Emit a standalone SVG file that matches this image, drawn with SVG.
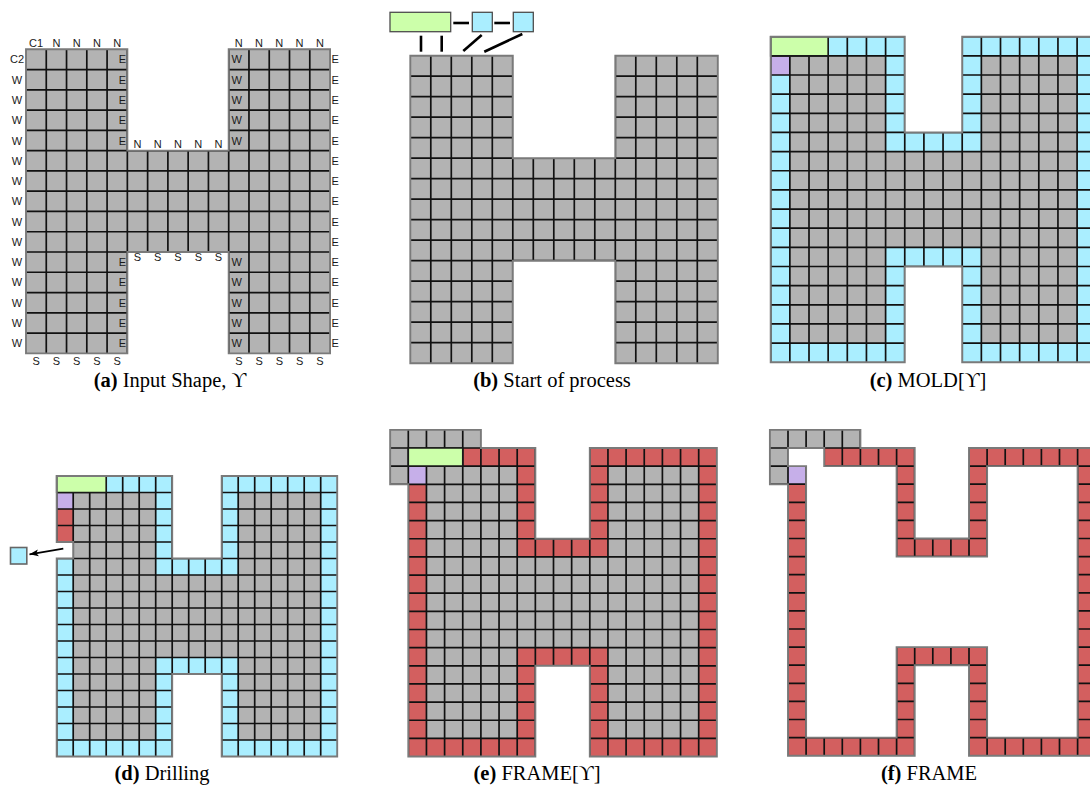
<svg xmlns="http://www.w3.org/2000/svg" xmlns:xlink="http://www.w3.org/1999/xlink" width="1090" height="790" viewBox="0 0 1090 790">
<style>
.gy{fill:#b3b3b3}
.bl{fill:#aaeeff}
.pu{fill:#c6afe9}
.rd{fill:#d35f5f}
.grid{fill:none;stroke:#111;stroke-width:1.7px}
.ol{fill:none;stroke:#7a7a7a;stroke-width:1.9px}
.mg{fill:#ccffaa;stroke:#1a1a1a;stroke-width:1.6px;vector-effect:non-scaling-stroke}
.lb{font-family:"Liberation Sans",Arial,sans-serif;font-size:11px;fill:#1a1a1a}
.m{text-anchor:middle}
.e{text-anchor:end}
.cap{font-family:"Liberation Serif","DejaVu Serif",serif;font-size:20.5px;fill:#000;text-anchor:middle}
.hd{stroke:#4d4d4d;stroke-width:1.3}
.ln{stroke:#000;stroke-width:2.6;fill:none}
</style>
<defs>
<path id="H15" d="M0,0H5V5H10V0H15V15H10V10H5V15H0Z" vector-effect="non-scaling-stroke"/>
<path id="H17" d="M0,0H7V5H10V0H17V17H10V12H7V17H0Z" vector-effect="non-scaling-stroke"/>
<path id="H17d" d="M0,0H7V5H10V0H17V17H10V12H7V17H0V5H1V4H0Z" vector-effect="non-scaling-stroke"/>
<path id="Hin" d="M1,1H6V6H11V1H16V16H11V11H6V16H1Z"/>
<path id="Lg" d="M-1,-1H4V0H0V2H-1Z"/>
<path id="E" d="M-1,-1H4V0H7V5H10V0H17V17H10V12H7V17H0V2H-1Z" vector-effect="non-scaling-stroke"/>
<path id="F" d="M-1,-1H4V0H7V5H10V0H17V17H10V12H7V17H0V2H-1Z M0,0H2V1H6V6H11V1H16V16H11V11H6V16H1V1H0Z" fill-rule="evenodd" clip-rule="evenodd" vector-effect="non-scaling-stroke"/>
<path id="g15" vector-effect="non-scaling-stroke" d="M1,0V15M2,0V15M3,0V15M4,0V15M5,0V15M6,0V15M7,0V15M8,0V15M9,0V15M10,0V15M11,0V15M12,0V15M13,0V15M14,0V15M0,1H15M0,2H15M0,3H15M0,4H15M0,5H15M0,6H15M0,7H15M0,8H15M0,9H15M0,10H15M0,11H15M0,12H15M0,13H15M0,14H15"/>
<path id="g17" vector-effect="non-scaling-stroke" d="M0,-1V17M1,-1V17M2,-1V17M3,-1V17M4,-1V17M5,-1V17M6,-1V17M7,-1V17M8,-1V17M9,-1V17M10,-1V17M11,-1V17M12,-1V17M13,-1V17M14,-1V17M15,-1V17M16,-1V17M-1,0H17M-1,1H17M-1,2H17M-1,3H17M-1,4H17M-1,5H17M-1,6H17M-1,7H17M-1,8H17M-1,9H17M-1,10H17M-1,11H17M-1,12H17M-1,13H17M-1,14H17M-1,15H17M-1,16H17"/>
<clipPath id="cH15"><use href="#H15"/></clipPath>
<clipPath id="cH17"><use href="#H17"/></clipPath>
<clipPath id="cH17d"><use href="#H17d"/></clipPath>
<clipPath id="cE"><use href="#E"/></clipPath>
<clipPath id="cF"><use href="#F" clip-rule="evenodd"/></clipPath>
<marker id="arr" markerUnits="userSpaceOnUse" markerWidth="10" markerHeight="8" refX="9" refY="4" orient="auto"><path d="M0,0.5L9,4L0,7.5L2,4Z" fill="#000"/></marker>
</defs>

<g id="panel-a">
<g transform="translate(26,49.3) scale(20.27)">
<use href="#H15" class="gy"/>
<use href="#g15" class="grid" clip-path="url(#cH15)"/>
<use href="#H15" class="ol"/>
</g>
<g class="lb">
<text class="m" x="36.1" y="46.5">C1</text>
<text class="m" x="56.4" y="46.5">N</text><text class="m" x="76.7" y="46.5">N</text><text class="m" x="96.9" y="46.5">N</text><text class="m" x="117.2" y="46.5">N</text>
<text class="m" x="238.8" y="46.5">N</text><text class="m" x="259.1" y="46.5">N</text><text class="m" x="279.3" y="46.5">N</text><text class="m" x="299.6" y="46.5">N</text><text class="m" x="319.9" y="46.5">N</text>
<text class="m" x="17" y="63.4">C2</text>
<text class="m" x="17" y="83.7">W</text><text class="m" x="17" y="103.9">W</text><text class="m" x="17" y="124.2">W</text><text class="m" x="17" y="144.5">W</text><text class="m" x="17" y="164.7">W</text><text class="m" x="17" y="185">W</text><text class="m" x="17" y="205.3">W</text><text class="m" x="17" y="225.6">W</text><text class="m" x="17" y="245.8">W</text><text class="m" x="17" y="266.1">W</text><text class="m" x="17" y="286.4">W</text><text class="m" x="17" y="306.6">W</text><text class="m" x="17" y="326.9">W</text><text class="m" x="17" y="347.2">W</text>
<text class="e" x="126" y="63.4">E</text><text class="e" x="126" y="83.7">E</text><text class="e" x="126" y="103.9">E</text><text class="e" x="126" y="124.2">E</text><text class="e" x="126" y="144.5">E</text>
<text class="e" x="126" y="266.1">E</text><text class="e" x="126" y="286.4">E</text><text class="e" x="126" y="306.6">E</text><text class="e" x="126" y="326.9">E</text><text class="e" x="126" y="347.2">E</text>
<text x="231.5" y="63.4">W</text><text x="231.5" y="83.7">W</text><text x="231.5" y="103.9">W</text><text x="231.5" y="124.2">W</text><text x="231.5" y="144.5">W</text>
<text x="231.5" y="266.1">W</text><text x="231.5" y="286.4">W</text><text x="231.5" y="306.6">W</text><text x="231.5" y="326.9">W</text><text x="231.5" y="347.2">W</text>
<text x="331.5" y="63.4">E</text><text x="331.5" y="83.7">E</text><text x="331.5" y="103.9">E</text><text x="331.5" y="124.2">E</text><text x="331.5" y="144.5">E</text><text x="331.5" y="164.7">E</text><text x="331.5" y="185">E</text><text x="331.5" y="205.3">E</text><text x="331.5" y="225.6">E</text><text x="331.5" y="245.8">E</text><text x="331.5" y="266.1">E</text><text x="331.5" y="286.4">E</text><text x="331.5" y="306.6">E</text><text x="331.5" y="326.9">E</text><text x="331.5" y="347.2">E</text>
<text class="m" x="137.5" y="148.3">N</text><text class="m" x="157.7" y="148.3">N</text><text class="m" x="178" y="148.3">N</text><text class="m" x="198.3" y="148.3">N</text><text class="m" x="218.5" y="148.3">N</text>
<text class="m" x="137.5" y="261">S</text><text class="m" x="157.7" y="261">S</text><text class="m" x="178" y="261">S</text><text class="m" x="198.3" y="261">S</text><text class="m" x="218.5" y="261">S</text>
<text class="m" x="36.1" y="365">S</text><text class="m" x="56.4" y="365">S</text><text class="m" x="76.7" y="365">S</text><text class="m" x="96.9" y="365">S</text><text class="m" x="117.2" y="365">S</text>
<text class="m" x="238.8" y="365">S</text><text class="m" x="259.1" y="365">S</text><text class="m" x="279.3" y="365">S</text><text class="m" x="299.6" y="365">S</text><text class="m" x="319.9" y="365">S</text>
</g>
<text class="cap" x="170" y="387"><tspan font-weight="bold">(a)</tspan> Input Shape, ϒ</text>
</g>

<g id="panel-b">
<g transform="translate(410.3,55.7) scale(20.5)">
<use href="#H15" class="gy"/>
<use href="#g15" class="grid" clip-path="url(#cH15)"/>
<use href="#H15" class="ol"/>
</g>
<g id="b-head">
<rect x="390" y="12.3" width="60.7" height="19.4" fill="#ccffaa" class="hd"/>
<rect x="472.3" y="12.3" width="20" height="19.4" fill="#aaeeff" class="hd"/>
<rect x="513.3" y="12.3" width="20" height="19.4" fill="#aaeeff" class="hd"/>
</g>
<g id="b-connectors" class="ln">
<line x1="453.3" y1="23" x2="469" y2="23"/>
<line x1="494.3" y1="23" x2="510" y2="23"/>
<line x1="421" y1="35.7" x2="421" y2="51.7"/>
<line x1="441.7" y1="35.7" x2="441.7" y2="51.7"/>
<line x1="481.7" y1="35" x2="463.3" y2="51"/>
<line x1="522.3" y1="34" x2="484.3" y2="51.7"/>
</g>
<text class="cap" x="552" y="387"><tspan font-weight="bold">(b)</tspan> Start of process</text>
</g>

<g id="panel-c">
<g transform="translate(770.7,36.7) scale(19.15)">
<use href="#H17" class="bl"/>
<use href="#Hin" class="gy"/>
<rect x="0" y="1" width="1" height="1" class="pu"/>
<use href="#g17" class="grid" clip-path="url(#cH17)"/>
<rect x="0" y="0" width="3" height="1" class="mg"/>
<use href="#H17" class="ol"/>
</g>
<text class="cap" x="928" y="387"><tspan font-weight="bold">(c)</tspan> MOLD[ϒ]</text>
</g>

<g id="panel-d">
<g transform="translate(56.7,476) scale(16.5)">
<use href="#H17d" class="bl"/>
<use href="#Hin" class="gy"/>
<rect x="0" y="1" width="1" height="1" class="pu"/>
<rect x="0" y="2" width="1" height="2" class="rd"/>
<use href="#g17" class="grid" clip-path="url(#cH17d)"/>
<rect x="0" y="0" width="3" height="1" class="mg"/>
<use href="#H17d" class="ol"/>
</g>
<g id="d-drilled">
<rect x="10.5" y="547.5" width="16.3" height="16.5" fill="#aaeeff" stroke="#666" stroke-width="1.6"/>
</g>
<g id="d-arrow">
<line x1="63.3" y1="548.7" x2="29.5" y2="554.3" stroke="#000" stroke-width="1.8" marker-end="url(#arr)"/>
</g>
<text class="cap" x="162" y="780"><tspan font-weight="bold">(d)</tspan> Drilling</text>
</g>

<g id="panel-e">
<g transform="translate(408.3,448) scale(18.15)">
<use href="#H17" class="rd"/>
<use href="#Lg" class="gy"/>
<use href="#Hin" class="gy"/>
<rect x="0" y="1" width="1" height="1" class="pu"/>
<use href="#g17" class="grid" clip-path="url(#cE)"/>
<rect x="0" y="0" width="3" height="1" class="mg"/>
<use href="#E" class="ol"/>
</g>
<text class="cap" x="537" y="780"><tspan font-weight="bold">(e)</tspan> FRAME[ϒ]</text>
</g>

<g id="panel-f">
<g transform="translate(788,448) scale(18.1)">
<use href="#F" class="rd"/>
<use href="#Lg" class="gy"/>
<rect x="0" y="1" width="1" height="1" class="pu"/>
<use href="#g17" class="grid" clip-path="url(#cF)"/>
<use href="#F" class="ol"/>
</g>
<text class="cap" x="929" y="780"><tspan font-weight="bold">(f)</tspan> FRAME</text>
</g>
</svg>
